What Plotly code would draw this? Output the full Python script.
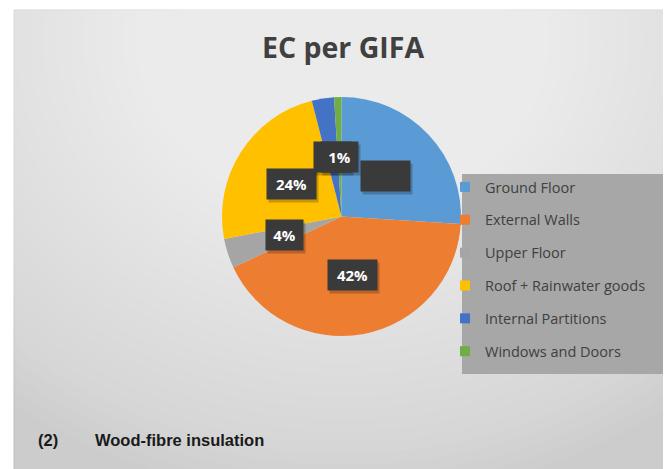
import math
import plotly.graph_objects as go

# ---------------- data ----------------
categories = ["Ground Floor", "External Walls", "Upper Floor",
              "Roof + Rainwater goods", "Internal Partitions", "Windows and Doors"]
shares = [26, 42, 4, 24, 3, 1]
colors = ["#5B9BD5", "#ED7D31", "#A5A5A5", "#FFC000", "#4472C4", "#70AD47"]
hidden_labels = ["Ground Floor"]          # label box drawn without visible text
title_text = "EC per GIFA"
caption_num = "(2)"
caption_text = "Wood-fibre insulation"

# ---------------- geometry (pixels of the page) ----------------
W, H = 671, 469
OFF = 8                      # page body margin
cx, cy, R = 341.5, 216.5, 119.5
BOX = "#3a3a3a"

def px(x):
    return (x - OFF) / W

def py(y):
    return 1 - (y - OFF) / H

fig = go.Figure()

fig.add_trace(go.Pie(
    labels=categories, values=shares, sort=False, direction="clockwise", rotation=0,
    marker=dict(colors=colors, line=dict(width=0)),
    textinfo="none", hoverinfo="label+percent", showlegend=False,
    domain=dict(x=[px(cx - R), px(cx + R)], y=[py(cy + R), py(cy - R)]),
))

for cat, col in zip(categories, colors):
    fig.add_trace(go.Scatter(
        x=[None], y=[None], mode="markers", name=cat, legendgroup=cat,
        marker=dict(symbol="square", size=10, color=col), showlegend=True,
    ))

# ---------------- background ----------------
shapes = [dict(type="rect", xref="paper", yref="paper", x0=px(14), x1=1.05, y0=-0.05, y1=py(10),
               fillcolor="#cccccc", line=dict(color="#bdbdbd", width=1), layer="below")]
gx, gy = 343, 40
n = 40
for i in range(n):
    rx = 540 - i * (520 / (n - 1))
    ry = rx * 0.85
    shapes.append(dict(type="circle", xref="paper", yref="paper",
                       x0=px(gx - rx), x1=px(gx + rx), y0=py(gy + ry), y1=py(gy - ry),
                       fillcolor="white", opacity=0.047, line=dict(width=0), layer="below"))
# legend panel
shapes.append(dict(type="rect", xref="paper", yref="paper", x0=px(462), x1=px(666),
                   y0=py(374), y1=py(174), fillcolor="#a7a7a7", line=dict(width=0), layer="below"))

# ---------------- data labels ----------------
annotations = []
total = sum(shares)
cum = 0
label_specs = []
for cat, v in zip(categories, shares):
    mid = (cum + v / 2) / total * 2 * math.pi
    cum += v
    lx = cx + 0.5 * R * math.sin(mid)
    ly = cy - 0.5 * R * math.cos(mid)
    label_specs.append((cat, v, lx, ly))

for cat, v, lx, ly in label_specs:
    t = f"{v}%"
    w = 12 * len(t) + 11
    annotations.append(dict(x=px(lx), y=py(ly), xref="paper", yref="paper", showarrow=False,
                            text=f"<b>{t}</b>", font=dict(family="Open Sans", size=15, color="rgba(0,0,0,0)"),
                            bgcolor="rgba(0,0,0,0.22)", width=w, height=28, borderpad=1,
                            xshift=2, yshift=-3, xanchor="center", yanchor="middle"))
    annotations.append(dict(x=px(lx), y=py(ly), xref="paper", yref="paper", showarrow=False,
                            text=f"<b>{t}</b>",
                            font=dict(family="Open Sans", size=15,
                                      color=BOX if cat in hidden_labels else "white"),
                            bgcolor=BOX, width=w, height=28, borderpad=1,
                            xanchor="center", yanchor="middle"))

# ---------------- caption ----------------
annotations.append(dict(x=px(36), y=py(440), xref="paper", yref="paper", showarrow=False,
                        text=f"<b>{caption_num}</b>", xanchor="left", yanchor="middle",
                        font=dict(family="Liberation Sans", size=16.5, color="#1a1a1a")))
annotations.append(dict(x=px(93), y=py(440), xref="paper", yref="paper", showarrow=False,
                        text=f"<b>{caption_text}</b>", xanchor="left", yanchor="middle",
                        font=dict(family="Liberation Sans", size=16.5, color="#1a1a1a")))

fig.update_layout(
    width=W, height=H, margin=dict(l=0, r=0, t=0, b=0),
    paper_bgcolor="white", plot_bgcolor="rgba(0,0,0,0)",
    title=dict(text=f"<b>{title_text}</b>", x=px(343), xanchor="center", xref="paper",
               y=py(48), yanchor="middle", yref="container",
               font=dict(family="Open Sans", size=28.5, color="#404040")),
    xaxis=dict(visible=False), yaxis=dict(visible=False),
    legend=dict(x=px(445), y=py(171), xanchor="left", yanchor="top",
                bgcolor="rgba(0,0,0,0)", tracegroupgap=11,
                font=dict(family="Open Sans", size=14.5, color="#404040")),
    shapes=shapes, annotations=annotations,
)

fig.write_html("out.html")
